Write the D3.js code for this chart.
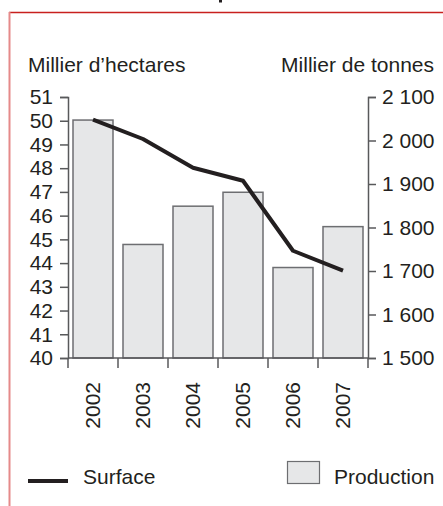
<!DOCTYPE html>
<html>
<head>
<meta charset="utf-8">
<script src="https://cdn.jsdelivr.net/npm/d3@7"></script>
<style>
  body { margin: 0; background: #fff; }
  svg { display: block; font-family: "Liberation Sans", Arial, sans-serif; }
  .axis path, .axis line { stroke: #58595b; stroke-width: 1.5; }
  .axis text { fill: #231f20; font-size: 21px; }
</style>
</head>
<body>
<svg id="chart" width="443" height="506"></svg>
<script>
// chart data
var years = ["2002", "2003", "2004", "2005", "2006", "2007"];
var surface = [50.05, 49.23, 48.02, 47.47, 44.52, 43.68];      // Millier d'hectares
var production = [2047, 1761, 1849, 1881, 1708, 1802];        // Millier de tonnes
var leftTicks = [40, 41, 42, 43, 44, 45, 46, 47, 48, 49, 50, 51];
var rightTicks = [1500, 1600, 1700, 1800, 1900, 2000, 2100];

var text_color = "#231f20";
var bar_fill = "#e6e7e8";
var bar_stroke = "#6d6e71";

var svg = d3.select("#chart");

// frame (red border, top and left)
svg.append("line").attr("x1", 9).attr("x2", 443).attr("y1", 12.5).attr("y2", 12.5)
  .attr("stroke", "#c8201e").attr("stroke-width", 1.5);
svg.append("line").attr("x1", 9.5).attr("x2", 9.5).attr("y1", 12).attr("y2", 506)
  .attr("stroke", "#e58a8a").attr("stroke-width", 2);
// bit of the cut title above the frame
svg.append("rect").attr("x", 219).attr("y", 0).attr("width", 3).attr("height", 2.5).attr("fill", text_color);

var plot_left = 68, plot_right = 368, plot_top = 97, plot_bottom = 358;

var x = d3.scaleBand().domain(years).range([plot_left, plot_right]).paddingInner(0.2).paddingOuter(0.1);
var yL = d3.scaleLinear().domain([40, 51]).range([plot_bottom, plot_top]);
var yR = d3.scaleLinear().domain([1500, 2100]).range([plot_bottom, plot_top]);

var fr = d3.formatLocale({decimal: ",", thousands: "\u00a0", grouping: [3], currency: ["", " €"]});
var fmt = fr.format(",d");

// bars (production)
svg.append("g").selectAll("rect").data(production).enter().append("rect")
  .attr("x", function(d, i){ return x(years[i]); })
  .attr("y", function(d){ return yR(d); })
  .attr("width", x.bandwidth())
  .attr("height", function(d){ return plot_bottom - yR(d); })
  .attr("fill", bar_fill)
  .attr("stroke", bar_stroke)
  .attr("stroke-width", 1.5);

// baseline and category separators
var g = svg.append("g").attr("class", "axis");
g.append("line").attr("x1", plot_left).attr("x2", plot_right).attr("y1", plot_bottom).attr("y2", plot_bottom);
var bounds = d3.range(years.length + 1).map(function(i){ return plot_left + i * x.step(); });
g.selectAll(".sep").data(bounds).enter().append("line").attr("class", "sep")
  .attr("x1", function(d){ return d; }).attr("x2", function(d){ return d; })
  .attr("y1", plot_bottom).attr("y2", plot_bottom + 10);

// left axis
svg.append("g").attr("class", "axis")
  .attr("transform", "translate(" + plot_left + ",0)")
  .call(d3.axisLeft(yL).tickValues(leftTicks).tickSize(8).tickPadding(7).tickFormat(d3.format("d")));

// right axis
svg.append("g").attr("class", "axis")
  .attr("transform", "translate(" + plot_right + ",0)")
  .call(d3.axisRight(yR).tickValues(rightTicks).tickSize(8).tickPadding(6).tickFormat(fmt));

// year labels
svg.append("g").selectAll("text").data(years).enter().append("text")
  .attr("transform", function(d){ return "translate(" + (x(d) + x.bandwidth() / 2 + 7) + "," + (plot_bottom + 24) + ") rotate(-90)"; })
  .attr("text-anchor", "end")
  .attr("fill", text_color)
  .style("font-size", "21px")
  .text(function(d){ return d; });

// surface line
var line = d3.line()
  .x(function(d, i){ return x(years[i]) + x.bandwidth() / 2; })
  .y(function(d){ return yL(d); });
svg.append("path").datum(surface)
  .attr("d", line)
  .attr("fill", "none")
  .attr("stroke", text_color)
  .attr("stroke-width", 4)
  .attr("stroke-linejoin", "round");

// axis titles
svg.append("text").attr("x", 28).attr("y", 72).attr("fill", text_color)
  .style("font-size", "21px").text("Millier d\u2019hectares");
svg.append("text").attr("x", 434).attr("y", 72).attr("fill", text_color)
  .attr("text-anchor", "end").style("font-size", "21px").text("Millier de tonnes");

// legend
svg.append("line").attr("x1", 28).attr("x2", 68).attr("y1", 481).attr("y2", 481)
  .attr("stroke", text_color).attr("stroke-width", 4);
svg.append("text").attr("x", 83).attr("y", 484).attr("fill", text_color)
  .style("font-size", "21px").text("Surface");
svg.append("rect").attr("x", 287.5).attr("y", 461.5).attr("width", 32).attr("height", 22)
  .attr("fill", bar_fill).attr("stroke", bar_stroke).attr("stroke-width", 1.2);
svg.append("text").attr("x", 334).attr("y", 484).attr("fill", text_color)
  .style("font-size", "21px").text("Production");
</script>
</body>
</html>
